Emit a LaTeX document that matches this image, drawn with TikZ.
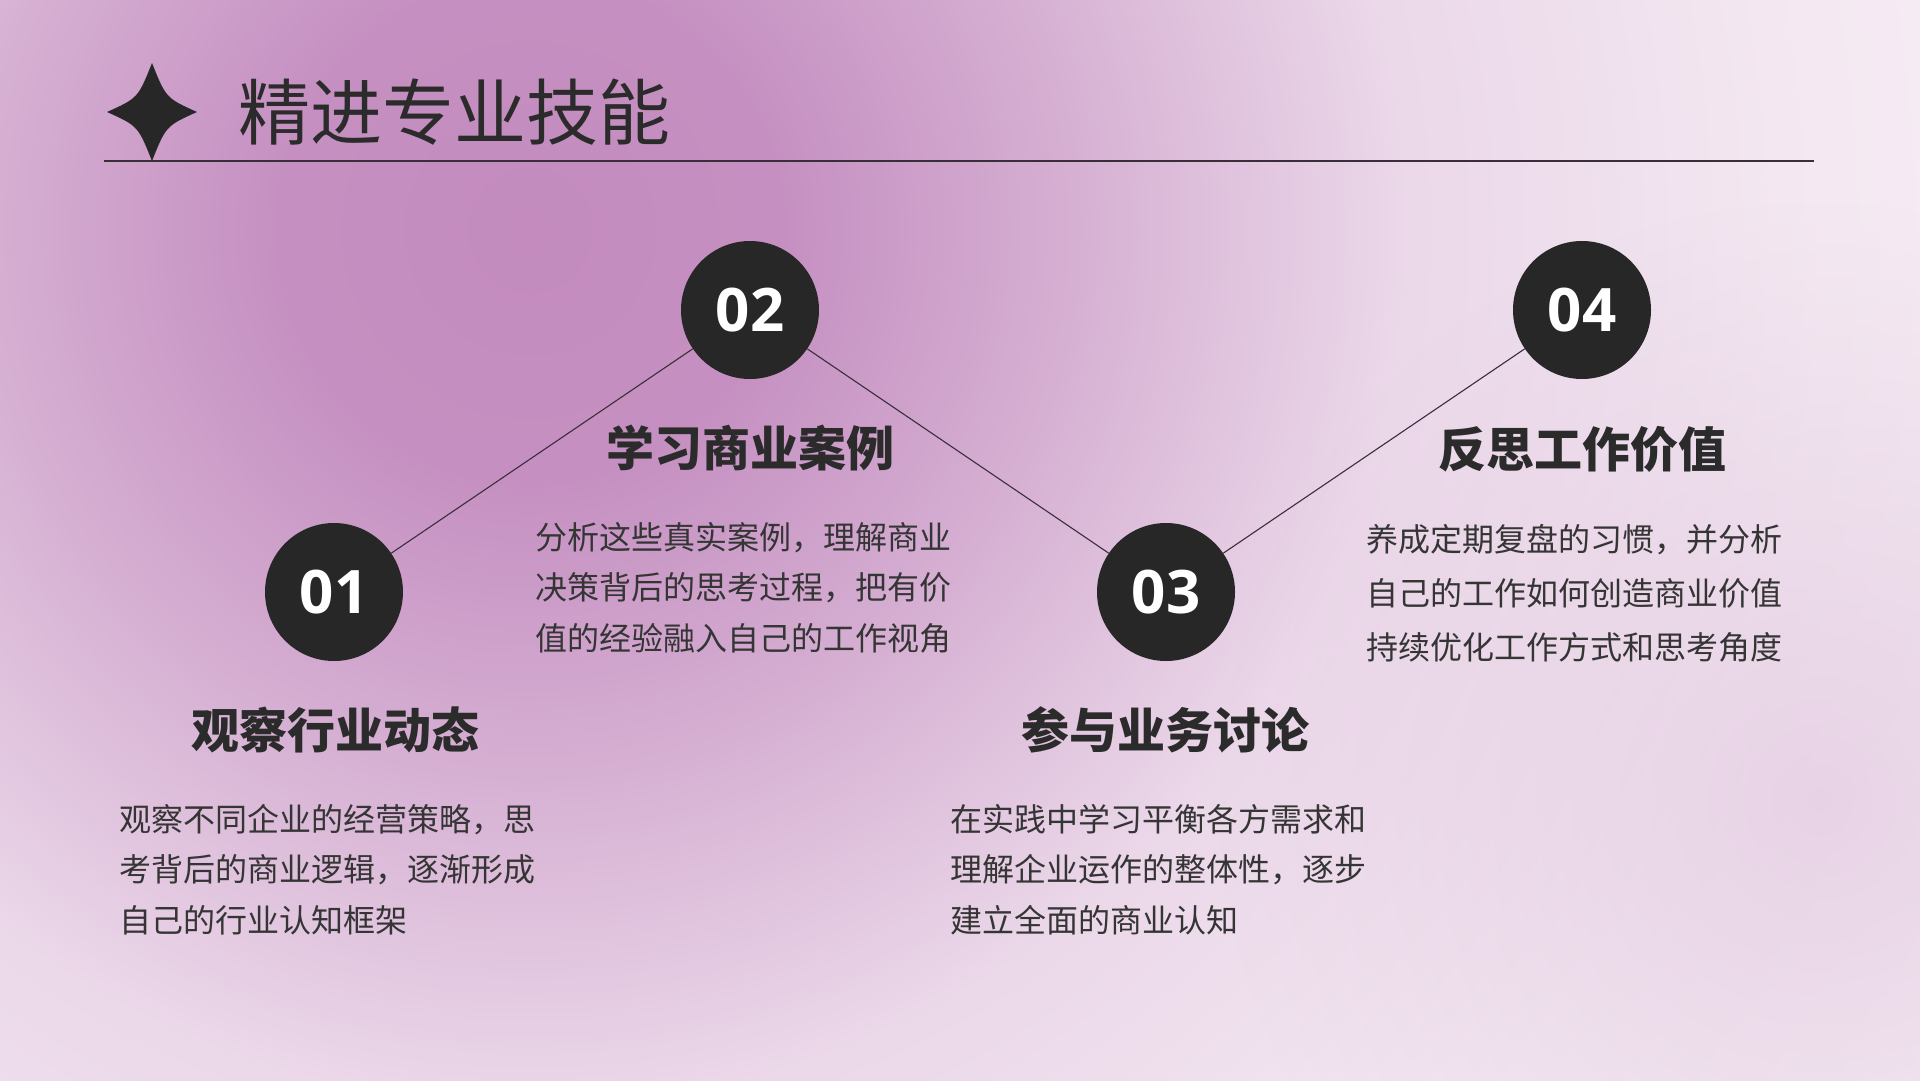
\documentclass[tikz,border=0pt]{standalone}
\usepackage{fontspec}
\usetikzlibrary{fadings}
\newfontfamily\cjk{Noto Sans CJK SC}
\newfontfamily\numfont{Open Sans}
\definecolor{bg0}{HTML}{C38BBE}
\definecolor{bg1}{HTML}{C590C1}
\definecolor{bg2}{HTML}{D5AED2}
\definecolor{bg3}{HTML}{EBD8E9}
\definecolor{bg4}{HTML}{F4E9F2}
\definecolor{bg5}{HTML}{F8F0F6}
\definecolor{blobc}{HTML}{DEC2DC}
\definecolor{circ}{HTML}{272727}
\definecolor{linec}{HTML}{3A2E3A}
\definecolor{titlec}{HTML}{2B2B2B}
\definecolor{headc}{HTML}{2B2B2B}
\definecolor{bodyc}{HTML}{353535}
\pgfdeclareradialshading{bgshade}{\pgfpoint{0bp}{0bp}}{color(0bp)=(bg0); color(3.7bp)=(bg1); color(7.8bp)=(bg2); color(12.9bp)=(bg3); color(19.1bp)=(bg4); color(25bp)=(bg5); color(50bp)=(bg5)}
\tikzfading[name=blobfade, inner color=transparent!0, outer color=transparent!100]
\tikzset{
  numc/.style={circle, fill=circ, minimum size=138pt, inner sep=0pt, text=white,
    font=\numfont\bfseries\fontsize{60}{60}\selectfont},
  conn/.style={draw=linec, line width=1.1pt},
  head/.style={font=\cjk\bfseries\fontsize{48}{56}\selectfont, text=headc, inner sep=0pt},
  body/.style={font=\cjk\fontsize{32}{50.5}\selectfont, text=bodyc, align=left, inner sep=0pt, anchor=base west},
  titletext/.style={font=\cjk\fontsize{72}{86}\selectfont, text=titlec, inner sep=0pt, anchor=west},
}
\begin{document}
\begin{tikzpicture}[x=1pt,y=-1pt]
% background
\useasboundingbox (0,0) rectangle (1920,1080);
\begin{scope}
  \clip (0,0) rectangle (1920,1080);
  \fill[bg5] (0,0) rectangle (1920,1080);
  \path[shading=bgshade] (-1170,-1470) rectangle (2230,1930);
  \fill[blobc, opacity=0.6, path fading=blobfade] (1820,800) circle (600);
\end{scope}
% star
\fill[circ] (152,63) .. controls (166,98) .. (197,112)
  .. controls (166,126) .. (152,161)
  .. controls (138,126) .. (107,112)
  .. controls (138,98) .. cycle;
% title
\node[titletext] (title) at (238.5,112.5) {精进专业技能};
\coordinate (la) at (104,161);
\coordinate (lb) at (1814,161);
\draw[draw=linec, line width=1.6pt] (la) -- (lb);
% circles
\node[numc] (c1) at (334,592) {01};
\node[numc] (c2) at (750,310) {02};
\node[numc] (c3) at (1166,592) {03};
\node[numc] (c4) at (1582,310) {04};
\draw[conn] (c1) -- (c2);
\draw[conn] (c2) -- (c3);
\draw[conn] (c3) -- (c4);
% headings
\node[head] (h1) at (335,730) {观察行业动态};
\node[head] (h2) at (750,448) {学习商业案例};
\node[head] (h3) at (1165,730) {参与业务讨论};
\node[head] (h4) at (1582,449) {反思工作价值};
% bodies (anchor = baseline of last line)
\node[body] (b1) at (119.5,932) {观察不同企业的经营策略，思\\考背后的商业逻辑，逐渐形成\\自己的行业认知框架};
\node[body] (b2) at (535.5,650) {分析这些真实案例，理解商业\\决策背后的思考过程，把有价\\值的经验融入自己的工作视角};
\node[body] (b3) at (950,932) {在实践中学习平衡各方需求和\\理解企业运作的整体性，逐步\\建立全面的商业认知};
\node[body, font=\cjk\fontsize{32}{54}\selectfont] (b4) at (1366.5,659) {养成定期复盘的习惯，并分析\\自己的工作如何创造商业价值\\持续优化工作方式和思考角度};
\end{tikzpicture}
\end{document}
